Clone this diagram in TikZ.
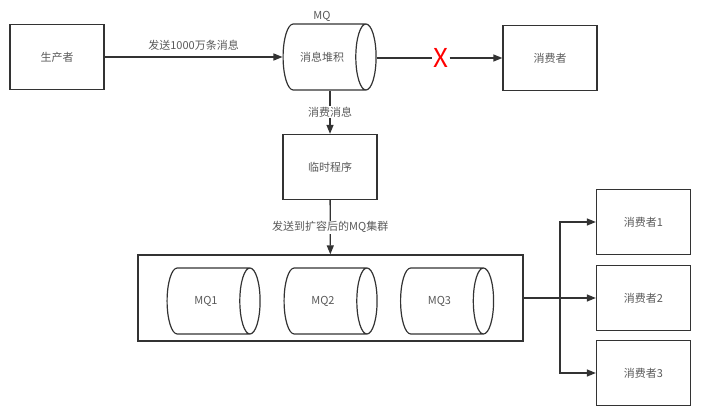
\documentclass[tikz,border=0pt]{standalone}
\usepackage{fontspec}
\setmainfont{Noto Sans CJK SC}
\usetikzlibrary{calc, shapes.geometric, arrows.meta}

\begin{document}
\begin{tikzpicture}[
    x=1pt, y=-1pt,
    box/.style={rectangle, draw=black!80, line width=1.3pt, minimum width=94pt, minimum height=65pt, text=black!65, font=\fontsize{11}{13}\selectfont},
    queue/.style={cylinder, draw=black!80, line width=1.2pt, shape aspect=1.2, minimum height=93pt, minimum width=66pt, text=black!65, font=\fontsize{11}{13}\selectfont},
    flow/.style={draw=black!80, line width=1.3pt, -{Triangle[length=9pt, width=7pt]}},
    tag/.style={fill=white, text=black!65, inner sep=1pt, font=\fontsize{11}{13}\selectfont}
]
    \useasboundingbox (0,0) rectangle (712,419);

    % Fila superior: productor, MQ y consumidor
    \node[box] (producer) at (57,57) {生产者};
    \node[queue] (mq) at (322,57) {消息堆积};
    \node[tag, above=1pt] at (mq.north) {MQ};
    \node[box] (consumer) at (550,58) {消费者};

    \draw[flow] (producer) -- (mq) node[midway, above=3pt, text=black!65, font=\fontsize{11}{13}\selectfont] {发送1000万条消息};
    \node[text=red, inner sep=1pt, font=\fontsize{26}{28}\selectfont] (cross) at (441,58) {X};
    \draw[draw=black!80, line width=1.3pt] (mq.east |- consumer) -- (cross.west);
    \draw[flow] (cross.east) -- (consumer);

    % Programa temporal
    \node[box] (temp) at (330,167) {临时程序};
    \draw[flow] (temp |- mq.south) -- (temp) node[tag, midway] {消费消息};

    % Cluster de MQ ampliado
    \node[rectangle, draw=black!80, line width=1.3pt, minimum width=385pt, minimum height=86pt] (cluster) at (330.5,298) {};
    \draw[flow] (temp) -- (cluster) node[tag, pos=0.5] {发送到扩容后的MQ集群};
    \node[queue] (mq1) at (206,301) {MQ1};
    \node[queue] (mq2) at (323,301) {MQ2};
    \node[queue] (mq3) at (439.5,301) {MQ3};

    % Consumidores finales
    \node[box] (consumer1) at (643.5,222) {消费者1};
    \node[box] (consumer2) at (643.5,298) {消费者2};
    \node[box] (consumer3) at (643.5,373) {消费者3};

    \coordinate (split) at (560,298);
    \draw[draw=black!80, line width=1.3pt] (cluster.east) -- (split);
    \draw[flow] (split) |- (consumer1.west);
    \draw[flow] (split) -- (consumer2.west);
    \draw[flow] (split) |- (consumer3.west);

\end{tikzpicture}
\end{document}
